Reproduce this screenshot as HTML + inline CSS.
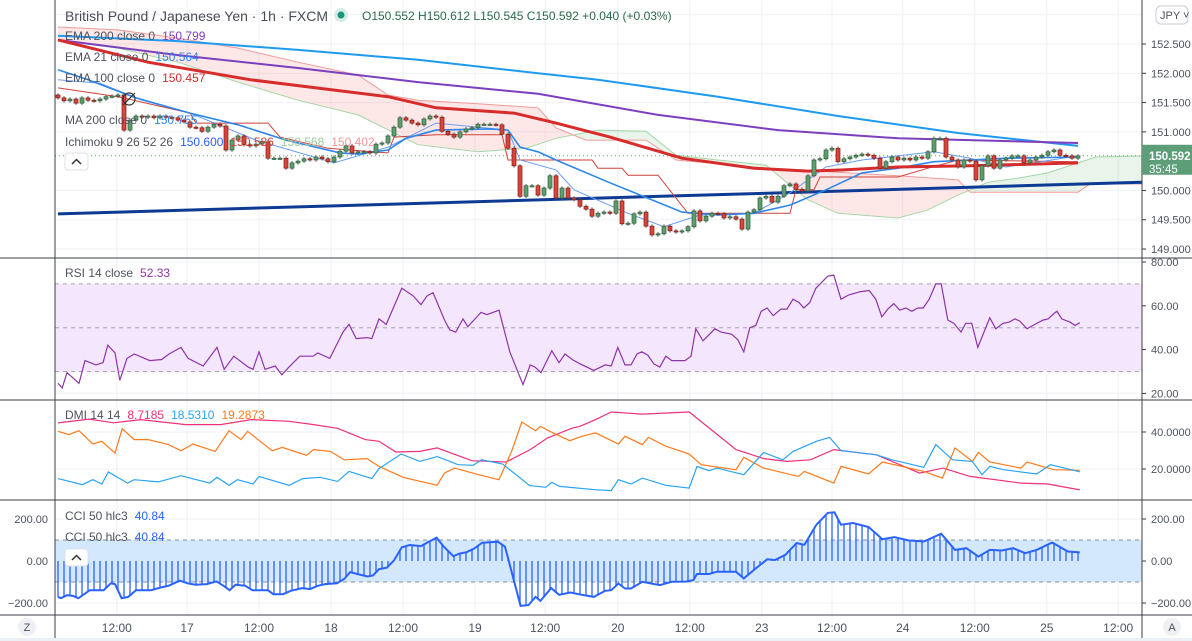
<!DOCTYPE html>
<html><head><meta charset="utf-8">
<style>
html,body{margin:0;padding:0;background:#fff;}
svg{display:block;font-family:"Liberation Sans",sans-serif;}
</style></head>
<body>
<svg id="chart" width="1192" height="641" viewBox="0 0 1192 641" xmlns="http://www.w3.org/2000/svg">
<defs>
<clipPath id="cMain"><rect x="55" y="0" width="1087" height="258"/></clipPath>
<clipPath id="cRsi"><rect x="55" y="258" width="1087" height="142"/></clipPath>
<clipPath id="cDmi"><rect x="55" y="400" width="1087" height="100"/></clipPath>
<clipPath id="cCci"><rect x="55" y="500" width="1087" height="115"/></clipPath>
</defs>
<g id="grid"></g>
<g id="bands"></g>
<g id="cloud" clip-path="url(#cMain)"></g>
<g id="lines" clip-path="url(#cMain)"></g>
<g id="candles" clip-path="url(#cMain)"></g>
<g id="ind"></g>
<g id="axes"></g>
<g id="legend"></g>
</svg>
<script>
// ---------- DATA ----------
const firstOpen = 151.63;
const closes = [151.58,151.53,151.56,151.49,151.58,151.54,151.53,151.56,151.60,151.61,
151.63,151.03,151.20,151.27,151.25,151.27,151.24,151.27,151.25,151.24,
151.20,151.17,151.08,151.07,151.01,151.08,151.13,151.10,150.69,150.86,
150.93,150.78,150.76,150.79,150.83,150.55,150.55,150.55,150.38,150.47,
150.50,150.54,150.52,150.57,150.54,150.49,150.57,150.67,150.76,150.64,
150.66,150.66,150.64,150.79,150.81,150.93,151.08,151.24,151.20,151.15,
151.12,151.22,151.27,151.25,151.01,150.96,150.91,151.00,151.05,151.07,
151.13,151.13,151.13,151.12,150.96,150.72,150.42,149.90,150.08,150.08,
149.92,150.04,150.25,149.87,150.04,149.87,149.84,149.73,149.68,149.56,
149.61,149.63,149.61,149.82,149.43,149.44,149.60,149.63,149.39,149.24,
149.26,149.39,149.31,149.29,149.31,149.38,149.65,149.48,149.56,149.61,
149.60,149.53,149.55,149.51,149.34,149.63,149.67,149.87,149.90,149.80,
149.90,150.08,150.11,150.02,149.99,150.25,150.52,150.54,150.69,150.72,
150.49,150.54,150.57,150.60,150.62,150.60,150.55,150.38,150.49,150.57,
150.52,150.55,150.52,150.57,150.55,150.66,150.89,150.89,150.57,150.52,
150.40,150.52,150.50,150.18,150.42,150.59,150.38,150.52,150.55,150.59,
150.59,150.47,150.52,150.57,150.60,150.66,150.69,150.60,150.59,150.55,150.59];

const maT = [0,20,40,60,80,90,110,130,150,170];
const maV = [152.64,152.55,152.40,152.23,152.00,151.89,151.60,151.27,150.98,150.76];
const ema200T = [0,20,40,60,80,100,120,140,170];
const ema200V = [152.57,152.31,152.09,151.85,151.65,151.29,151.03,150.89,150.81];
const ema100T = [0,15,32,55,63,76,83,92,104,116,125,131,140,152,170];
const ema100V = [152.57,152.19,151.89,151.60,151.41,151.32,151.15,150.91,150.55,150.38,150.33,150.35,150.40,150.42,150.47];
const ema21T = [0,5,13,22,30,38,47,50,55,58,63,72,75,77,80,83,92,104,110,116,122,128,134,140,146,152,158,170];
const ema21V = [152.06,151.89,151.58,151.32,151.12,150.86,150.64,150.62,150.69,150.89,151.03,151.05,151.03,150.74,150.66,150.52,150.13,149.63,149.58,149.61,149.75,150.01,150.30,150.38,150.49,150.52,150.55,150.57];
const tenkanT = [0,7,14,22,33,46,55,63,75,77,83,86,95,101,107,116,122,128,134,146,152,158,170];
const tenkanV = [151.89,151.83,151.54,151.32,150.86,150.47,150.74,151.15,151.03,150.52,150.35,150.01,149.61,149.38,149.58,149.61,149.96,150.40,150.52,150.66,150.55,150.40,150.59];
const kijunT = [0,10,22,23,35,37,45,55,56,63,74,75,89,90,94,95,100,105,122,123,126,127,140,145,150,170];
const kijunV = [151.75,151.60,151.32,151.15,151.15,150.91,150.72,150.64,150.91,150.95,150.95,150.52,150.52,150.38,150.38,150.26,150.26,149.61,149.61,150.01,150.01,150.23,150.23,150.38,150.52,150.49];
const spanAT = [0,10,20,30,40,50,60,70,78,83,90,98,103,110,118,125,130,140,145,150,155,160,165,170,173,181];
const spanAV = [152.57,152.43,152.19,151.85,151.54,151.29,150.78,150.66,150.72,150.89,151.03,151.01,150.60,150.52,150.43,149.84,149.61,149.53,149.67,149.92,150.14,150.21,150.30,150.47,150.57,150.59];
const spanBT = [0,10,20,30,40,50,55,60,70,80,83,88,98,103,118,130,140,150,152,170,172,181];
const spanBV = [152.79,152.74,152.60,152.43,152.19,151.97,151.63,151.54,151.48,151.41,151.07,150.86,150.86,150.52,150.38,150.31,150.25,150.18,149.97,149.97,150.11,150.11];
const trendT = [0,181];
const trendV = [149.60,150.14];
const lastPrice = 150.592;

const priceTicks = [152.5,152.0,151.5,151.0,150.0,149.5,149.0];
const priceTickLabels = ["152.500","152.000","151.500","151.000","150.000","149.500","149.000"];
const timeTicks = [9.8,21.5,33.5,45.5,57.5,69.5,81.2,93.3,105.3,117.3,129,140.8,152.8,164.8,176.7];
const timeLabels = ["12:00","17","12:00","18","12:00","19","12:00","20","12:00","23","12:00","24","12:00","25","12:00"];

const rsiT = [0,0.7,1.5,3.5,4.5,6.3,7.5,8.3,9.5,10.3,11.5,12.7,15.3,17.3,18.5,20.5,21.7,24.2,26.5,27.7,29.3,31.7,32.5,33.5,34.5,36.2,37.3,38.5,40.3,42.5,43.3,45.3,47.5,48.5,49.7,51.5,52.3,53.5,54.7,57.3,59.2,60.5,61.5,62.5,64.5,65.3,66.3,67.5,68.3,70.5,71.5,73.5,75.3,77.5,78.7,79.5,80.5,82.3,83.5,84.5,85.7,87,89.3,91.2,92.2,93.3,94.5,95.5,96.5,97.3,98.3,99.3,100.3,101.3,102.3,104.5,105.5,106.3,107.5,109.5,110.5,112.3,113.3,114.3,115.3,116.3,117.2,118.2,119.2,120.5,121.5,122.5,123.5,124.3,125.3,126.3,128.3,129.3,130.5,131.8,133.8,135.2,136.3,137.3,138.3,139.3,140.3,141.3,142.3,143.3,144.2,145.2,146.3,147.2,148.3,149.3,150.5,151.3,152.3,153.3,155.3,156.3,157.5,158.5,159.5,160.3,161.5,162.8,164.2,165,166,166.5,167.3,168.7,169.5,170.3];
const rsiV = [24.6,22.5,29.5,24.6,35,33,34,42,38.5,26,36,38,35,35.5,38,41,36,32.5,41,31,37,32,31,39,31,32.5,28.5,32,37,37,38.5,36,48,51.5,45,45.5,45,54,51.5,68,64.5,60.5,64.5,66,53,49,48,54,50.5,57,56,58,39,24,33,32,29.5,39.5,34,38,35.5,33.5,30.5,33,32.5,41,33,33,38,39,37.5,33.5,32,37,35,35,37,49.5,44,49.5,48,47,44.5,39,50,51,57.5,59,55.5,58.5,58.5,63,61.5,59,61.5,68,73.5,74,63,65,66.5,67,63,55,58.5,61,58,59,57.5,59,59,63,70,70,53.5,52,48,52,52,41,54.5,49.5,52,52.5,54,53,49.5,51.5,53.5,54,56.5,57.5,54,52.5,51,52.3];
const rsiTicks = [80,60,40,20];

const diMinusT = [0,5.2,9.3,13.8,21.3,27.1,32.2,38.5,42.6,46.6,51.2,53.5,56.3,60.3,63.2,65.5,69,74.7,78.7,81.6,85.6,87,89.6,92.2,97.4,105.2,108.5,113,117.6,121.5,125.4,129.3,136.4,143.6,147.5,152,160.5,165,170.3];
const diMinusV = [44.9,47,45,46.7,44,44,46.7,45.8,44,42,35.9,35,29.2,29.5,31.4,28.6,24.5,23.8,30.5,36.8,42,43.1,46.7,50.8,49.7,50.8,42.2,30.5,25.6,24.1,25,30.5,27.7,17.8,20.5,16,12.4,11.9,8.7];
const adxT = [0,1.8,3.5,5.8,7.3,9.5,10.7,12.7,15,18.4,20.5,22.5,26.2,28.5,30.5,31.6,33.7,35.7,37.4,41.4,42.6,45.4,47.7,51.5,53.5,57.5,63.2,64.4,66.1,70.1,73.5,75.6,77.3,79.6,80.4,82.5,85.3,87.3,89.6,93.4,94.5,97.4,98.4,101.3,105.2,107.2,113,114.3,117.6,123.4,124.4,129.3,130.5,135.1,137.4,144.3,147.4,149.5,152.4,153.4,155.3,160.5,161.5,166,170.3];
const adxV = [40.4,38.6,40.7,33.5,35,28.6,41.8,35.9,35.9,33.2,29.9,33.5,29.5,40.7,35.9,40.4,35,29.9,31.7,27.4,30.5,29.5,25,25.6,21.4,15.5,11.2,17.8,20.5,16.9,14.2,29.5,45.4,40.7,43.1,39.5,35.3,37.7,39.5,33.5,37.7,33.2,37.1,32.3,28.1,22.3,19.6,26.3,20.5,16,18.7,12.4,21.4,17.3,23.8,18.7,15.1,31.4,24.1,29,23.8,20.5,23.8,19.6,19.3];
const diPlusT = [0,4.1,5.8,7.3,8.4,11.6,12.7,16.7,20.5,25.3,26.5,28.5,29.9,32.5,33.5,38.5,40.8,43.7,46.6,48.5,52.3,53.5,57.2,60.3,63.2,66.7,69.2,70.6,74.1,78.6,81.3,82.3,83.6,89.5,92.2,93.4,95.5,97.4,101.3,105.2,106.5,108.5,109.8,114.3,117.6,120.8,122.5,126.4,128.6,130.5,136.4,139,144.3,146.3,149.1,152.4,154,155.3,157.6,163.1,165.4,170.3];
const diPlusV = [14.8,11.5,14.2,11.9,18.4,12.4,14.2,13,16.4,12.4,15.5,11.2,14.2,11.9,16,11.2,14.8,15.5,13.3,18.7,14.8,20.2,28.1,24.1,26.7,22.3,22,25,22.7,11,10.1,12.8,10.6,8.8,8.3,14.2,11.9,15.1,11.2,9.7,21.4,19.1,20.5,16.9,29,25,29.5,35,37.1,29.9,27.7,25,20.9,33.2,25,24.1,16.9,21.4,19.6,17.3,22.3,18.5];
const dmiTicks = [40,20];
const dmiTickLabels = ["40.0000","20.0000"];

const cciT = [0,0.5,1.5,2.5,3.4,5.3,7.6,8.8,9.5,10.6,11.7,13,15.5,17.1,18.4,20.3,21.6,22.9,24.8,26.4,27.6,28.6,29.6,31.2,32.4,35,35.9,37.5,38.8,40.7,42,43.3,44.5,46.5,47.7,48.7,50.3,51.6,52.5,53.5,54.8,56,57.3,58.6,60.5,61.8,63.1,64.3,65.9,66.9,68.1,69.4,70.7,73.3,74.5,77.1,78.4,79.6,80.4,82.2,83.5,85.4,87.3,89.3,91.2,92.2,93.4,94.5,95.5,97.4,99.4,100.3,102.3,104.6,105.9,106.5,108.5,109.8,113,114.3,116.3,118.2,119.5,121.2,123.1,124.4,126.4,128.3,129.4,130.5,132.5,135.1,137.4,139.4,141.7,144.3,147.2,149.5,151.4,153.4,155.3,157.3,159.2,161.2,163.1,165.7,168.3,170.3];
const cciV = [-171,-177,-163,-166,-177,-139,-139,-106,-110,-177,-171,-139,-139,-126,-118,-94,-106,-113,-110,-97,-118,-139,-113,-118,-139,-139,-158,-158,-142,-129,-134,-118,-110,-106,-85,-53,-65,-74,-69,-39,-32,3,65,76,71,92,111,68,23,35,42,60,87,92,68,-214,-210,-171,-190,-129,-161,-150,-161,-171,-142,-139,-107,-131,-131,-99,-110,-115,-99,-98,-91,-62,-62,-51,-51,-83,-35,8,5,29,85,77,173,229,232,173,181,162,104,114,98,93,130,53,61,21,53,50,61,37,53,88,45,40.84];
const cciTicks = [200,0,-200];
const cciTickLabels = ["200.00","0.00","−200.00"];

// ---------- SCALES ----------
const X0 = 55, X1 = 1142;
const xT = t => 58 + t*6;
const yP = p => 44 + (152.5 - p)*58.57;
const yR = v => 262 + (80 - v)*2.19;
const yD = v => 469 + (20 - v)*1.85;
const yC = v => 561 - v*0.21;

const NS = "http://www.w3.org/2000/svg";
function mk(parent, tag, attrs, text){
  const e = document.createElementNS(NS, tag);
  for (const k in attrs) e.setAttribute(k, attrs[k]);
  if (text !== undefined) e.textContent = text;
  parent.appendChild(e);
  return e;
}
const $ = id => document.getElementById(id);
function pathFrom(ts, vs, sx, sy){
  return ts.map((t,i)=>(i?'L':'M')+sx(t).toFixed(1)+','+sy(vs[i]).toFixed(1)).join('');
}
function lerpAt(ts, vs, t){
  if (t<=ts[0]) return vs[0];
  for (let i=1;i<ts.length;i++){ if (t<=ts[i]){ const f=(t-ts[i-1])/(ts[i]-ts[i-1]); return vs[i-1]+f*(vs[i]-vs[i-1]); } }
  return vs[vs.length-1];
}

// ---------- GRID ----------
const grid = $('grid');
const gridColor = '#eef0f4';
timeTicks.forEach(t=>{
  const l = mk(grid,'line',{x1:xT(t),x2:xT(t),y1:0,y2:615,stroke:gridColor,'stroke-width':1});
  
  
});
[153].concat(priceTicks).forEach(p=>{
  const l = mk(grid,'line',{x1:X0,x2:X1,y1:yP(p),y2:yP(p),stroke:gridColor});
  
  
});
rsiTicks.forEach(v=>{ const l=mk(grid,'line',{x1:X0,x2:X1,y1:yR(v),y2:yR(v),stroke:gridColor});
    });
dmiTicks.forEach(v=>{ const l=mk(grid,'line',{x1:X0,x2:X1,y1:yD(v),y2:yD(v),stroke:gridColor});
    });
cciTicks.forEach(v=>{ const l=mk(grid,'line',{x1:X0,x2:X1,y1:yC(v),y2:yC(v),stroke:gridColor});
    });

// ---------- BANDS ----------
const bands = $('bands');
let b = mk(bands,'rect',{x:X0,y:yR(70),width:X1-X0,height:yR(30)-yR(70),fill:'#f3e6fd'});
 
[70,50,30].forEach(v=>{ const l=mk(bands,'line',{x1:X0,x2:X1,y1:yR(v),y2:yR(v),stroke:'#a8a8b4','stroke-dasharray':'4,4'});
    });
b = mk(bands,'rect',{x:X0,y:yC(100),width:X1-X0,height:yC(-100)-yC(100),fill:'#d3e8fc'});
 
[100,-100].forEach(v=>{ const l=mk(bands,'line',{x1:X0,x2:X1,y1:yC(v),y2:yC(v),stroke:'#8a8f99','stroke-dasharray':'4,4'});
    });

// ---------- CLOUD ----------
const cloud = $('cloud');
for (let t=0; t<181; t+=1){
  const a0=lerpAt(spanAT,spanAV,t), a1=lerpAt(spanAT,spanAV,t+1);
  const b0=lerpAt(spanBT,spanBV,t), b1=lerpAt(spanBT,spanBV,t+1);
  const col = (a0+a1)>(b0+b1) ? 'rgba(76,175,80,0.12)' : 'rgba(244,67,54,0.12)';
  const q = mk(cloud,'polygon',{points:`${xT(t)},${yP(a0)} ${xT(t+1)},${yP(a1)} ${xT(t+1)},${yP(b1)} ${xT(t)},${yP(b0)}`,fill:col});
  
  
}
let ln = mk(cloud,'path',{d:pathFrom(spanAT,spanAV,xT,yP),fill:'none',stroke:'#a5d6a7','stroke-width':1});
 
ln = mk(cloud,'path',{d:pathFrom(spanBT,spanBV,xT,yP),fill:'none',stroke:'#ef9a9a','stroke-width':1});
 

// ---------- OVERLAY LINES ----------
const lines = $('lines');
ln = mk(lines,'line',{x1:X0,x2:X1,y1:yP(lastPrice),y2:yP(lastPrice),stroke:'#4caf50','stroke-dasharray':'1,3'});
 
ln = mk(lines,'path',{d:pathFrom(trendT,trendV,xT,yP),fill:'none',stroke:'#0d3b94','stroke-width':3});
 
ln = mk(lines,'path',{d:pathFrom(maT,maV,xT,yP),fill:'none',stroke:'#1e9af0','stroke-width':2});
 
ln = mk(lines,'path',{d:pathFrom(ema200T,ema200V,xT,yP),fill:'none',stroke:'#7b3fbf','stroke-width':2});
 
ln = mk(lines,'path',{d:pathFrom(kijunT,kijunV,xT,yP),fill:'none',stroke:'#d0403a','stroke-width':1});
 
ln = mk(lines,'path',{d:pathFrom(tenkanT,tenkanV,xT,yP),fill:'none',stroke:'#6a9ef5','stroke-width':1});
 
ln = mk(lines,'path',{d:pathFrom(ema21T,ema21V,xT,yP),fill:'none',stroke:'#2d86ec','stroke-width':1.6});
 
ln = mk(lines,'path',{d:pathFrom(ema100T,ema100V,xT,yP),fill:'none',stroke:'#d62c2c','stroke-width':3});
 

// ---------- CANDLES ----------
const cg = $('candles');
closes.forEach((c,i)=>{
  const o = i ? closes[i-1] : firstOpen;
  const hi = Math.max(o,c)+0.03, lo = Math.min(o,c)-0.03;
  const x = xT(i), up = c>=o;
  const w = mk(cg,'line',{x1:x,x2:x,y1:yP(hi),y2:yP(lo),stroke:'#555','stroke-width':1});
   
  const top = yP(Math.max(o,c)), h = Math.max(1.2, yP(Math.min(o,c))-top);
  const r = mk(cg,'rect',{x:x-2,y:top,width:4,height:h,fill:up?'#5e9e6e':'#d8453a',stroke:up?'#2e5e3c':'#7e1c14','stroke-width':0.7});
  
  
});

// ---------- INDICATORS ----------
const ind = $('ind');
const gR = mk(ind,'g',{'clip-path':'url(#cRsi)'});
ln = mk(gR,'path',{d:pathFrom(rsiT,rsiV,xT,yR),fill:'none',stroke:'#8e34a8','stroke-width':1.2});
 
const gD = mk(ind,'g',{'clip-path':'url(#cDmi)'});
ln = mk(gD,'path',{d:pathFrom(diMinusT,diMinusV,xT,yD),fill:'none',stroke:'#f0307a','stroke-width':1.2});
 
ln = mk(gD,'path',{d:pathFrom(adxT,adxV,xT,yD),fill:'none',stroke:'#ff7a1a','stroke-width':1.2});
 
ln = mk(gD,'path',{d:pathFrom(diPlusT,diPlusV,xT,yD),fill:'none',stroke:'#2aa4f4','stroke-width':1.2});
 
const gC = mk(ind,'g',{'clip-path':'url(#cCci)'});
const cciLast = cciT[cciT.length-1];
for (let t=0; t<=cciLast; t+=1){
  const v = lerpAt(cciT,cciV,t);
  const l = mk(gC,'line',{x1:xT(t),x2:xT(t),y1:yC(0),y2:yC(v),stroke:'#2962ff','stroke-width':1.3});
  
  
}
ln = mk(gC,'path',{d:pathFrom(cciT,cciV,xT,yC),fill:'none',stroke:'#2962ff','stroke-width':2});
 

// ---------- AXES ----------
const ax = $('axes');
const sepC = '#3c3f47';
[[X0,0,X0,615],[X1,0,X1,641],[0,258,1192,258],[0,400,1192,400],[0,500,1192,500],[0,615,1192,615]].forEach(s=>{
  const l = mk(ax,'line',{x1:s[0],y1:s[1],x2:s[2],y2:s[3],stroke:sepC,'stroke-width':1});
   
});
mk(ax,'rect',{x:0,y:616,width:1192,height:25,fill:'#fff'});
mk(ax,'line',{x1:X0,y1:615,x2:X0,y2:641,stroke:sepC});
mk(ax,'line',{x1:X1,y1:615,x2:X1,y2:641,stroke:sepC});
mk(ax,'rect',{x:0,y:638,width:1192,height:3,fill:'#eceff4'});
const tc = '#4c525e';
function tick(y,label,name){
  mk(ax,'line',{x1:X1,x2:X1+4,y1:y,y2:y,stroke:sepC});
  const t = mk(ax,'text',{x:1151,y:y+4,'font-size':11,fill:tc},label);
   
}
priceTicks.forEach((p,i)=>tick(yP(p),priceTickLabels[i],'price-tick-label'));
rsiTicks.forEach(v=>tick(yR(v),v.toFixed(2),'rsi-tick-label'));
dmiTicks.forEach((v,i)=>tick(yD(v),dmiTickLabels[i],'dmi-tick-label'));
cciTicks.forEach((v,i)=>{
  tick(yC(v),cciTickLabels[i],'cci-tick-label');
  const t = mk(ax,'text',{x:48,y:yC(v)+4,'font-size':11,fill:tc,'text-anchor':'end'},cciTickLabels[i]);
   
});
timeTicks.forEach((t,i)=>{
  const e = mk(ax,'text',{x:xT(t),y:632,'font-size':12,fill:tc,'text-anchor':'middle'},timeLabels[i]);
   
});
// last price label
let g = mk(ax,'g',{});
 
mk(g,'rect',{x:X1,y:yP(lastPrice)-11,width:50,height:30,fill:'#5d9e79'});
mk(g,'text',{x:1149,y:yP(lastPrice)+4,'font-size':11.5,'font-weight':'bold',fill:'#fff'},lastPrice.toFixed(3));
mk(g,'text',{x:1149,y:yP(lastPrice)+17,'font-size':11.5,fill:'#fff'},'35:45');
// currency button
g = mk(ax,'g',{});
 
mk(g,'rect',{x:1156,y:6,width:32,height:18,rx:5,fill:'#fff',stroke:'#c8ccd4'});
mk(g,'text',{x:1160,y:19,'font-size':11,fill:tc},'JPY ˅');
// Z and A buttons
g = mk(ax,'g',{});  
mk(g,'circle',{cx:27,cy:627,r:9,fill:'#eef0f4'});
mk(g,'text',{x:27,y:631,'font-size':11,fill:tc,'text-anchor':'middle'},'Z');
g = mk(ax,'g',{});  
mk(g,'circle',{cx:1172,cy:627,r:9,fill:'#eef0f4'});
mk(g,'text',{x:1172,y:631,'font-size':11,fill:tc,'text-anchor':'middle'},'A');

// ---------- LEGEND ----------
const lg = $('legend');
const lc = '#50535e';
let e = mk(lg,'text',{x:65,y:21,'font-size':14,fill:'#4a4d56'},'British Pound / Japanese Yen · 1h · FXCM');
 
e = mk(lg,'circle',{cx:341,cy:15,r:7,fill:'#d6ece5'});
 
e = mk(lg,'circle',{cx:341,cy:15,r:3.5,fill:'#14977a'});
 
e = mk(lg,'text',{x:362,y:20,'font-size':12,fill:'#2a6a4c'},'O150.552  H150.612  L150.545  C150.592  +0.040 (+0.03%)');
e.setAttribute('xml:space','preserve');
 
function legendRow(y, name, parts){
  const t = mk(lg,'text',{x:65,y:y,'font-size':12,fill:lc});
   
  parts.forEach((p,i)=>{ const s=mk(t,'tspan',{fill:p[1]},p[0]); if(i) s.setAttribute('dx','7'); });
}
legendRow(40,'ema-200-legend',[['EMA 200 close 0',lc],['150.799','#7b3fbf']]);
legendRow(61,'ema-21-legend',[['EMA 21 close 0',lc],['150.564','#2d86ec']]);
legendRow(82,'ema-100-legend',[['EMA 100 close 0',lc],['150.457','#d62c2c']]);
e = mk(lg,'g',{});  
mk(e,'circle',{cx:129,cy:99,r:6,fill:'none',stroke:'#333','stroke-width':1.2});
mk(e,'line',{x1:123,y1:105,x2:135,y2:93,stroke:'#333','stroke-width':1.2});
legendRow(124,'ma-200-legend',[['MA 200 close 0',lc],['150.755','#2d86ec']]);
legendRow(146,'ichimoku-legend',[['Ichimoku 9 26 52 26',lc],['150.600','#2962ff'],['150.586','#d0403a'],['150.568','#9ccc9c'],['150.402','#ef9a9a']]);
e = mk(lg,'g',{});  
mk(e,'rect',{x:65,y:153,width:23,height:17,rx:3,fill:'#fff',stroke:'#dde0e6'});
mk(e,'path',{d:'M72,164 L76.5,159.5 L81,164',fill:'none',stroke:'#333','stroke-width':1.5});
legendRow(277,'rsi-legend',[['RSI 14 close',lc],['52.33','#8e34a8']]);
legendRow(419,'dmi-legend',[['DMI 14 14',lc],['8.7185','#f0307a'],['18.5310','#2aa4f4'],['19.2873','#ff7a1a']]);
legendRow(520,'cci-legend',[['CCI 50 hlc3',lc],['40.84','#2962ff']]);
legendRow(541,'cci-legend-2',[['CCI 50 hlc3',lc],['40.84','#2962ff']]);
e = mk(lg,'g',{});  
mk(e,'rect',{x:65,y:549,width:23,height:17,rx:3,fill:'#fff',stroke:'#dde0e6'});
mk(e,'path',{d:'M72,560 L76.5,555.5 L81,560',fill:'none',stroke:'#333','stroke-width':1.5});
</script>
</body></html>
